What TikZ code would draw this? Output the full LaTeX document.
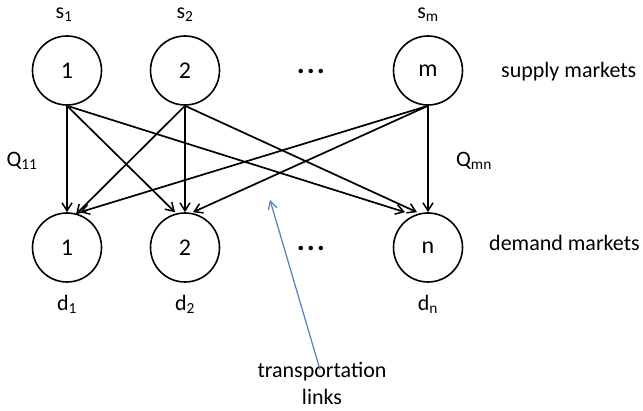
\documentclass[tikz,border=0pt]{standalone}
\usepackage{fontspec}
\setmainfont{Carlito}
\usetikzlibrary{arrows.meta}
\begin{document}
\begin{tikzpicture}[x=1pt,y=-1pt,
  mkt/.style={circle,draw,line width=1.6pt,minimum size=69pt,inner sep=0pt,font=\fontsize{24}{28}\selectfont},
  lbl/.style={font=\fontsize{22}{27}\selectfont,inner sep=0pt},
  flow/.style={line width=1.7pt,-{Straight Barb[length=8pt,width=10pt,line width=1.5pt]}},
  note/.style={draw={rgb,255:red,79;green,129;blue,189},line width=1.2pt,-{Straight Barb[length=8pt,width=9pt]}}]
\useasboundingbox (0,0) rectangle (643,411);
% supply markets
\node[mkt] (s1) at (67,70.5) {1};
\node[mkt] (s2) at (185,70.5) {2};
\node[mkt] (sm) at (428,70.5) {m};
% demand markets
\node[mkt] (d1) at (67,247.5) {1};
\node[mkt] (d2) at (185,247.5) {2};
\node[mkt] (dn) at (428,247.5) {n};
% labels
\node[lbl] (ls1) at (64,15) {s\textsubscript{1}};
\node[lbl] (ls2) at (185,15) {s\textsubscript{2}};
\node[lbl] (lsm) at (428,15) {s\textsubscript{m}};
\node[lbl] (ld1) at (67,304) {d\textsubscript{1}};
\node[lbl] (ld2) at (185,304) {d\textsubscript{2}};
\node[lbl] (ldn) at (428,304) {d\textsubscript{n}};
\node[lbl,font=\fontsize{30}{30}\selectfont\bfseries] (dots1) at (311,71) {.\kern2pt.\kern2pt.};
\node[lbl,font=\fontsize{30}{30}\selectfont\bfseries] (dots2) at (311,248) {.\kern2pt.\kern2pt.};
\node[lbl,anchor=west] (sup) at (501,72) {supply markets};
\node[lbl,anchor=west] (dem) at (489,243) {demand markets};
\node[lbl] (q11) at (22,161) {Q\textsubscript{11}};
\node[lbl] (qmn) at (474,161) {Q\textsubscript{mn}};
\node[lbl,align=center,font=\fontsize{22}{27}\selectfont] (tl) at (322,383) {transportation\\links};
% links
\draw[flow] (s1.south) -- (d1.north);
\draw[flow] (s1.south) -- ([xshift=-10pt]d2.north);
\draw[flow] (s1.south) -- ([xshift=-23pt]dn.north);
\draw[flow] (s2.south) -- ([xshift=9pt,yshift=-2pt]d1.north);
\draw[flow] (s2.south) -- (d2.north);
\draw[flow] (s2.south) -- ([xshift=-11pt]dn.north);
\draw[flow] (sm.south) -- ([xshift=13pt]d1.north);
\draw[flow] (sm.south) -- ([xshift=8pt]d2.north);
\draw[flow] (sm.south) -- (dn.north);
% pointer
\coordinate (tip) at (270,200);
\draw[note] (tl.north) ++(-2pt,-8pt) -- (tip);
\end{tikzpicture}
\end{document}
